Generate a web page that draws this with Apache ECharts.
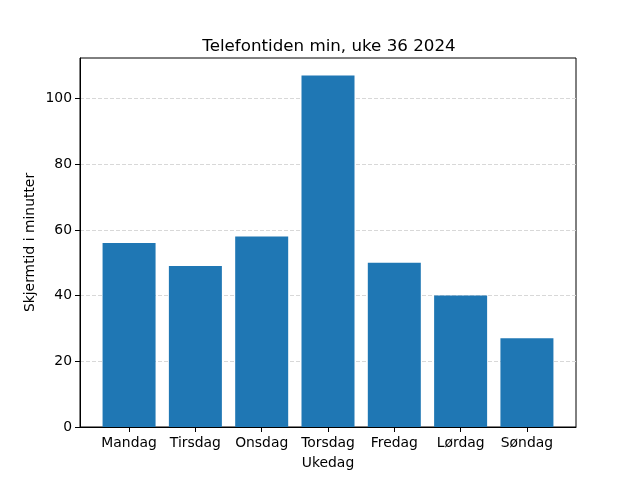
<!DOCTYPE html>
<html><head><meta charset="utf-8">
<script src="https://cdn.jsdelivr.net/npm/echarts@6/dist/echarts.min.js"></script>
<style>html,body{margin:0;padding:0;background:#fff}#c{width:640px;height:480px}</style>
</head><body><div id="c"></div>
<script>
const categories = ['Mandag','Tirsdag','Onsdag','Torsdag','Fredag','Lørdag','Søndag'];
const values = [56, 49, 58, 107, 50, 40, 27];
const yTicks = [0, 20, 40, 60, 80, 100];
const titleText = 'Telefontiden min, uke 36 2024';
const xName = 'Ukedag';
const yName = 'Skjermtid i minutter';

const font = 'DejaVu Sans';
const idx = categories.map((c, i) => i);
const chart = echarts.init(document.getElementById('c'), null, {renderer: 'canvas'});
chart.setOption({
  animation: false,
  backgroundColor: '#fff',
  title: {
    text: titleText, left: 324, top: 33, textAlign: 'center',
    textStyle: {fontFamily: font, fontSize: 16.7, fontWeight: 'normal', color: '#000'}
  },
  grid: {left: 80, right: 64, top: 58, bottom: 53, show: true, borderColor: '#000', borderWidth: 1, backgroundColor: 'transparent'},
  xAxis: {
    type: 'value', min: -0.74, max: 6.74,
    name: xName, nameLocation: 'middle', nameGap: 29, nameMoveOverlap: false,
    nameTextStyle: {fontFamily: font, fontSize: 13.9, color: '#000'},
    axisLine: {show: true, onZero: false, lineStyle: {color: '#000', width: 1}},
    axisTick: {show: true, length: 5, customValues: idx, lineStyle: {color: '#000'}},
    axisLabel: {show: true, customValues: idx, margin: 9, fontFamily: font, fontSize: 13.9, color: '#000',
      formatter: v => categories[Math.round(v)] || ''},
    splitLine: {show: false}
  },
  yAxis: {
    type: 'value', min: 0, max: 112.35, interval: 20,
    name: yName, nameLocation: 'middle', nameGap: 43, nameRotate: 90, nameMoveOverlap: false,
    nameTextStyle: {fontFamily: font, fontSize: 13.9, color: '#000'},
    axisLine: {show: true, onZero: false, lineStyle: {color: '#000', width: 1}},
    axisTick: {show: true, length: 5, customValues: yTicks, lineStyle: {color: '#000'}},
    axisLabel: {show: true, customValues: yTicks, margin: 8, fontFamily: font, fontSize: 13.9, color: '#000'},
    splitLine: {show: true, lineStyle: {color: '#d8d8d8', type: [4, 2], width: 1}}
  },
  series: [{
    type: 'bar',
    data: values.map((v, i) => [i, v]),
    barWidth: 53,
    itemStyle: {color: '#1f77b4', borderWidth: 0}
  }]
});
</script></body></html>
